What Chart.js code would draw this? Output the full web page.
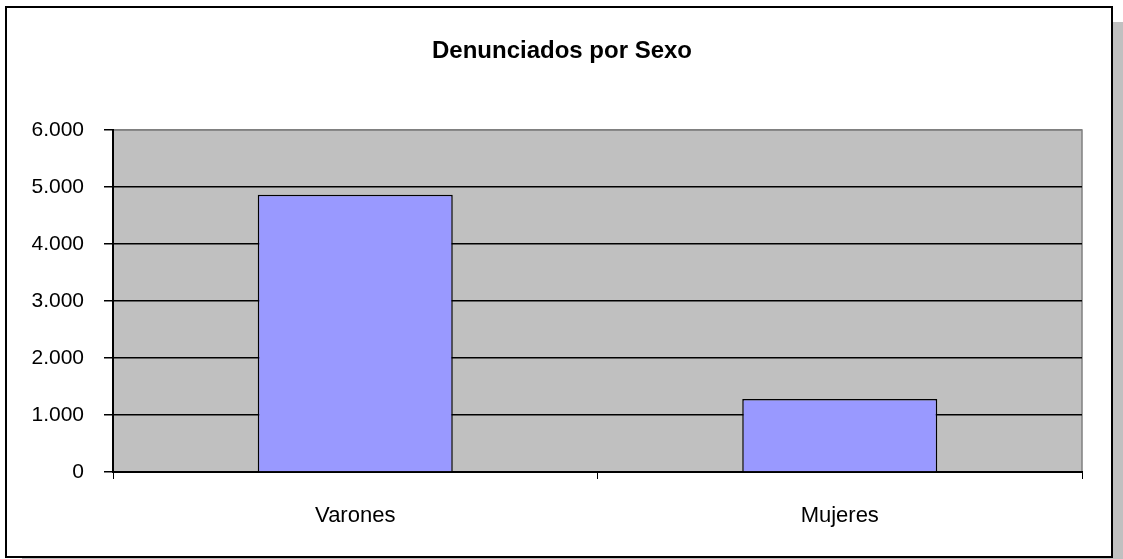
<!DOCTYPE html>
<html>
<head>
<meta charset="utf-8">
<script src="https://cdn.jsdelivr.net/npm/chart.js@4"></script>
<style>
  html, body { margin: 0; padding: 0; background: #fff; }
  #wrap { width: 1123px; height: 559px; }
</style>
</head>
<body>
<div id="wrap"><canvas id="grafico" width="1123" height="559"></canvas></div>
<script>
// Datos del gráfico
const categorias = ['Varones', 'Mujeres'];
const denunciados = [4865, 1280];
const tituloGrafico = 'Denunciados por Sexo';
const ejeYMax = 6000;
const ejeYPaso = 1000;

const FUENTE = '"Liberation Sans", Arial, sans-serif';

// Formato 6.000 (separador de miles con punto)
function formatoMiles(v) {
    return String(v).replace(/\B(?=(\d{3})+(?!\d))/g, '.');
}

// Marco exterior, sombra, fondo del área de trazado y título
const marcoPlugin = {
    id: 'marco',
    beforeDraw(chart) {
        const ctx = chart.ctx;
        const a = chart.chartArea;
        ctx.save();
        // sombra
        ctx.fillStyle = '#c0c0c0';
        ctx.fillRect(1113, 22, 10, 540);
        ctx.fillRect(22, 558, 1100, 4);
        // fondo blanco + borde
        ctx.fillStyle = '#ffffff';
        ctx.fillRect(6, 7, 1106, 550);
        ctx.strokeStyle = '#000';
        ctx.lineWidth = 2;
        ctx.strokeRect(6, 7, 1106, 550);
        // área de trazado
        ctx.fillStyle = '#c0c0c0';
        ctx.fillRect(a.left, a.top, a.right - a.left, a.bottom - a.top);
        ctx.strokeStyle = '#808080';
        ctx.lineWidth = 1.5;
        ctx.strokeRect(a.left, a.top, a.right - a.left, a.bottom - a.top);
        // título
        ctx.fillStyle = '#000';
        ctx.font = 'bold 24px ' + FUENTE;
        ctx.textAlign = 'center';
        ctx.textBaseline = 'middle';
        ctx.fillText(tituloGrafico, 562, 51);
        ctx.restore();
    }
};

new Chart(document.getElementById('grafico').getContext('2d'), {
    type: 'bar',
    data: {
        labels: categorias,
        datasets: [{
            label: tituloGrafico,
            data: denunciados,
            backgroundColor: '#9999ff',
            borderColor: '#000000',
            borderWidth: 1.5,
            categoryPercentage: 1,
            barPercentage: 0.4025
        }]
    },
    options: {
        responsive: false,
        animation: false,
        layout: { padding: { left: 0, right: 41, top: 130, bottom: 0 } },
        scales: {
            x: {
                afterFit: s => { s.height = 87; },
                grid: {
                    offset: true,
                    drawOnChartArea: false,
                    drawTicks: true,
                    tickLength: 7,
                    tickColor: '#000',
                    color: '#000'
                },
                border: { display: true, color: '#000', width: 2 },
                ticks: {
                    color: '#000',
                    padding: 24,
                    font: { family: FUENTE, size: 22 }
                }
            },
            y: {
                min: 0,
                max: ejeYMax,
                afterFit: s => { s.width = 113; },
                grid: {
                    color: ctx => (ctx.tick && ctx.tick.value === ejeYMax) ? '#808080' : '#000',
                    lineWidth: 1.5,
                    drawTicks: true,
                    tickLength: 9,
                    tickColor: '#000'
                },
                border: { display: true, color: '#000', width: 2 },
                ticks: {
                    stepSize: ejeYPaso,
                    color: '#000',
                    padding: 20,
                    font: { family: FUENTE, size: 21 },
                    callback: v => formatoMiles(v)
                }
            }
        },
        plugins: {
            legend: { display: false },
            title: { display: false },
            tooltip: { enabled: false }
        }
    },
    plugins: [marcoPlugin]
});
</script>
</body>
</html>
